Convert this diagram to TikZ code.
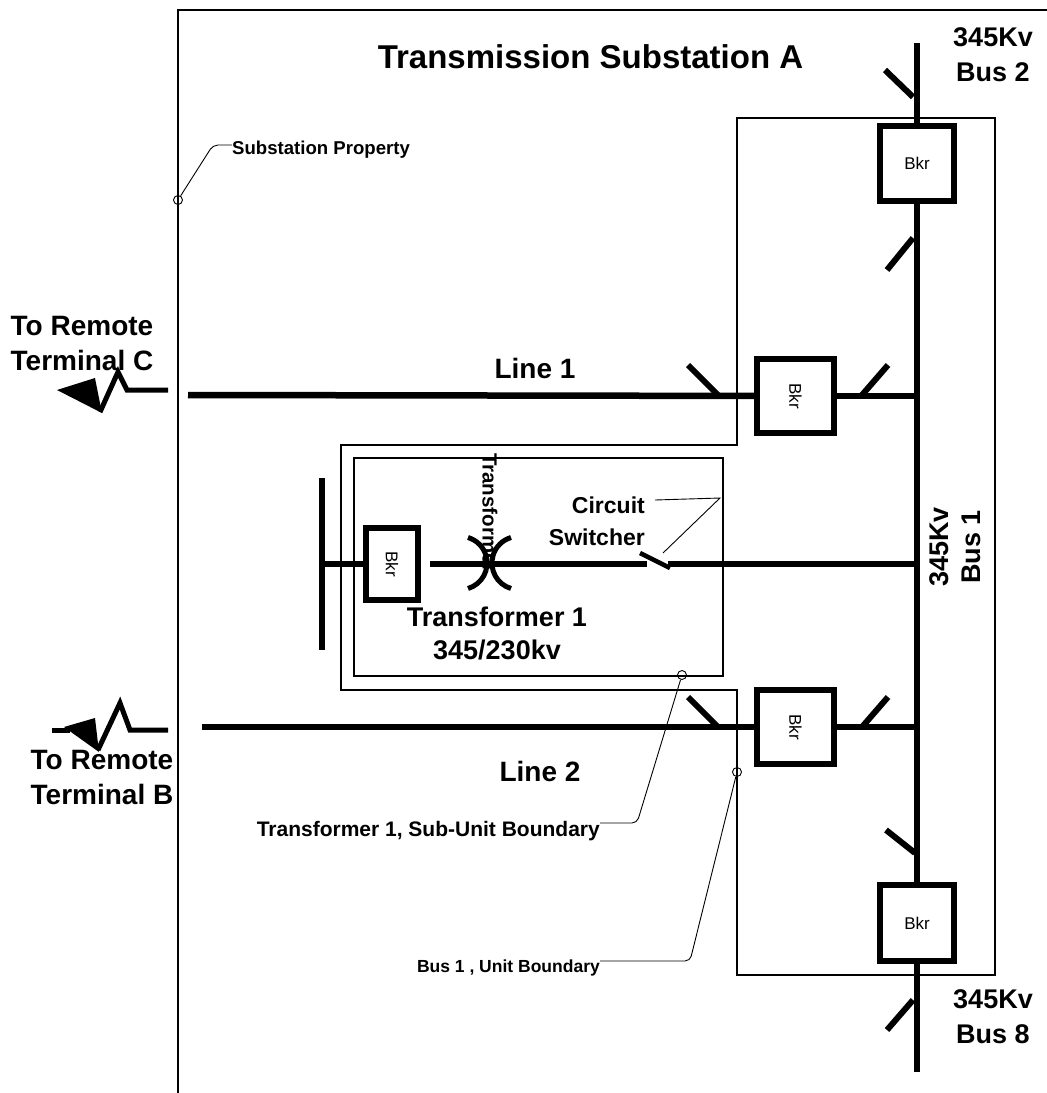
\documentclass[tikz,border=0pt]{standalone}
\usepackage{fontspec}
\setmainfont{Liberation Sans}
\begin{document}
\begin{tikzpicture}[x=1pt,y=-1pt,
	wire/.style={line width=6.5pt},
	blade/.style={line width=6pt},
	bound/.style={line width=1.4pt},
	leader/.style={line width=0.9pt, rounded corners=5pt},
	ring/.style={circle, draw, line width=0.9pt, minimum size=9pt, inner sep=0pt},
	bkr/.style={draw, line width=6pt, minimum width=74pt, minimum height=75pt, inner sep=0pt, font=\fontsize{17}{17}\selectfont},
	tag/.style={font=\bfseries\fontsize{28}{35}\selectfont, inner sep=0pt, align=center},
	note/.style={font=\bfseries\fontsize{21}{21}\selectfont, inner sep=0pt}]
		\useasboundingbox (0,0) rectangle (1047,1093);
		
		\draw[line width=2pt] (178,1093) -- (178,10) -- (1047,10);
		\draw[bound] (737,118) -- (995,118) -- (995,975) -- (737,975) -- (737,690)
		-- (341,690) -- (341,445) -- (737,445) -- cycle;
		\draw[bound] (354,458) rectangle (723,676);
		
		\node[tag, font=\bfseries\fontsize{33}{33}\selectfont] (title) at (590.5,57) {Transmission Substation A};
		\node[tag, font=\bfseries\fontsize{27}{35}\selectfont] (bus2) at (993,55) {345Kv\\Bus 2};
		\node[tag, font=\bfseries\fontsize{27}{35}\selectfont] (bus8) at (993,1017) {345Kv\\Bus 8};
		\node[tag, font=\bfseries\fontsize{27}{32}\selectfont, rotate=90] (bus1) at (955,547) {345Kv\\Bus 1};
		\node[tag, align=left] (termC) at (82,343) {To Remote\\Terminal C};
		\node[tag, align=left] (termB) at (102,777) {To Remote\\Terminal B};
		\node[tag] (line1) at (535,368) {Line 1};
		\node[tag] (line2) at (540,771) {Line 2};
		\node[tag, font=\bfseries\fontsize{27}{33}\selectfont] (xfmr) at (497,633) {Transformer 1\\345/230kv};
		\node[tag, align=right, anchor=east, font=\bfseries\fontsize{23}{32}\selectfont] (csw) at (645,521) {Circuit\\Switcher};
		\node[note, font=\bfseries\fontsize{20.5}{20.5}\selectfont, rotate=-90, anchor=west] (xfword) at (490,453) {Transformer};
		
		% bus 1
		\coordinate (busTop) at (917,43);
		\coordinate (busBot) at (917,1072);
		\node[bkr] (bkrA) at (917,163.5) {Bkr};
		\node[bkr, minimum height=76pt] (bkrD) at (917,923) {Bkr};
		\draw[wire] (busTop) -- (bkrA);
		\draw[wire] (bkrA) -- (bkrD);
		\draw[wire] (bkrD) -- (busBot);
		\draw[blade] (913,97) -- (885,70);
		\draw[blade] (913,238) -- (887,270);
		\draw[blade] (915,853) -- (886,830);
		\draw[blade] (913,1000) -- (887,1030);
		
		% lines
		\coordinate (lineCend) at (188,395);
		\coordinate (lineBend) at (202,727);
		\node[bkr, rotate=-90, minimum width=74pt, minimum height=77pt] (bkrL1) at (795.5,396) {Bkr};
		\node[bkr, rotate=-90, minimum width=74pt, minimum height=77pt] (bkrL2) at (795.5,727) {Bkr};
		\draw[wire] (lineCend) -- (bkrL1);
		\draw[wire] (bkrL1) -- (bkrL1 -| busTop);
		\draw[wire] (lineBend) -- (bkrL2);
		\draw[wire] (bkrL2) -- (bkrL2 -| busTop);
		\draw[blade] (718,395) -- (688,365);
		\draw[blade] (862,395) -- (888,365);
		\draw[blade] (718,727) -- (688,697);
		\draw[blade] (862,727) -- (888,697);
		
		\draw[line width=5pt] (168,390) -- (127,390) -- (118,372) -- (100,412);
		\fill (57,390) -- (95,378) -- (102,413) -- cycle;
		\draw[line width=5pt] (52,730) -- (70,730);
		\fill (64,727) -- (95,718) -- (99,752) -- cycle;
		\draw[line width=5pt] (98,750) -- (120,703) -- (130,730) -- (168,730);
		
		% transformer 1
		\coordinate (xfBarTop) at (322,478);
		\coordinate (xfBarBot) at (322,650);
		\coordinate (xfIn) at (430,564);
		\coordinate (csOpen) at (647,564);
		\coordinate (csClose) at (668,564);
		\coordinate (xfm) at (489.5,563);
		\node[bkr, rotate=-90, minimum width=72pt, minimum height=52pt] (bkrT) at (392,564) {Bkr};
		\draw[wire] (xfBarTop) -- (xfBarBot);
		\draw[wire] (bkrT -| xfBarTop) -- (bkrT);
		\draw[wire] (xfIn) -- (csOpen);
		\draw[wire] (csClose) -- (csClose -| busTop);
		\draw[line width=4.5pt] (640,553) -- (670,568);
		\draw[line width=5pt] (xfm) ++(-21.5,25.5) arc[start angle=73.5, end angle=-73.5, radius=26.6];
		\draw[line width=5pt] (xfm) ++(21.5,25.5) arc[start angle=106.5, end angle=253.5, radius=26.6];
		
		% callouts
		\coordinate (cswKnee) at (720,498);
		\coordinate (cswBlade) at (663,553);
		\draw[line width=0.9pt] (655,500) -- (cswKnee) -- (cswBlade);
		
		\node[ring] (propRing) at (178,200) {};
		\node[note, font=\bfseries\fontsize{18.6}{18.6}\selectfont, anchor=west] (propLbl) at (232,150) {Substation Property};
		\draw[leader] ([yshift=5pt]propLbl.west) -- ++(-19,0) -- (propRing);
		
		\node[ring] (subRing) at (682,675) {};
		\node[note, anchor=east] (subLbl) at (600,831) {Transformer 1, Sub-Unit Boundary};
		\draw[leader] ([yshift=8pt]subLbl.east) -- ++(37,0) -- (subRing);
		
		\node[ring] (unitRing) at (737,772) {};
		\node[note, font=\bfseries\fontsize{17.5}{17.5}\selectfont, anchor=east] (unitLbl) at (600,968) {Bus 1 , Unit Boundary};
		\draw[leader] ([yshift=7pt]unitLbl.east) -- ++(90,0) -- (unitRing);
\end{tikzpicture}
\end{document}
